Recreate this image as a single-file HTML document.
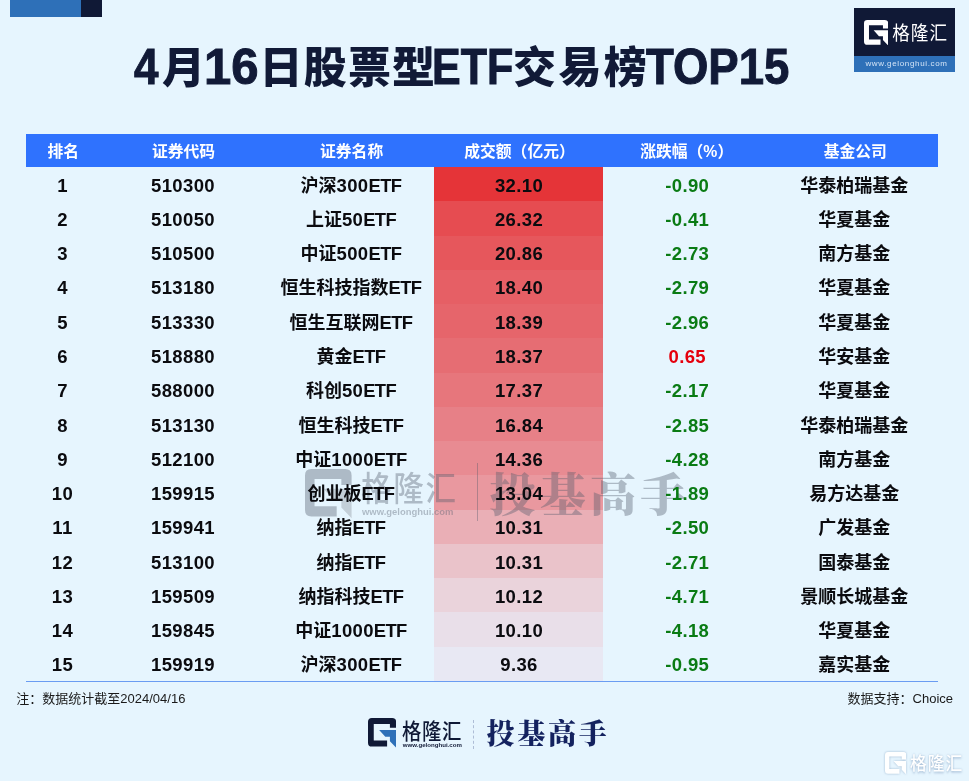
<!DOCTYPE html>
<html lang="zh-CN">
<head>
<meta charset="utf-8">
<title>4月16日股票型ETF交易榜TOP15</title>
<style>
html,body{margin:0;padding:0;}
body{width:969px;height:781px;overflow:hidden;background:#E6F5FE;position:relative;
  font-family:"Liberation Sans","Noto Sans CJK SC",sans-serif;color:#0b0b0f;}
.abs{position:absolute;}
.deco1{left:10px;top:0;width:71px;height:16.5px;background:#2E70B8;}
.deco2{left:81px;top:0;width:20.5px;height:16.5px;background:#101936;}
.title{left:0;width:969px;top:36px;height:64px;line-height:64px;font-weight:700;color:#111A37;white-space:nowrap;}
.title span{position:absolute;top:0;height:64px;line-height:64px;}
.tc{font-size:43px;letter-spacing:1.2px;font-weight:900;}
.tl{font-size:50px;transform-origin:0 50%;-webkit-text-stroke:1px #111A37;top:-1px !important;}
.logo{left:854px;top:8px;width:101px;height:64px;}
.logo .dk{left:0;top:0;width:101px;height:48px;background:#101936;}
.logo .bl{left:0;top:48px;width:101px;height:16px;background:#2E70B8;}
.logo .nm{left:38.2px;top:10.5px;height:28px;line-height:28px;font-size:17.6px;color:#fff;font-weight:400;white-space:nowrap;letter-spacing:1px;transform:scaleY(1.1);transform-origin:50% 50%;}
.logo .url{left:2px;top:48px;width:101px;height:16px;line-height:16px;text-align:center;font-size:8px;color:#d4e4f6;letter-spacing:0.65px;white-space:nowrap;}
.thead{left:26px;top:134px;width:912px;height:33px;background:#2F72FE;}
.th{position:absolute;top:134.8px;height:33px;line-height:33px;color:#fff;font-size:15.8px;font-weight:700;text-align:center;white-space:nowrap;width:200px;}
.bar{position:absolute;left:434px;width:169px;}
.row{position:absolute;left:0;width:969px;font-size:18px;font-weight:700;white-space:nowrap;}
.d{font-size:18.5px;letter-spacing:.35px}.a{font-size:18.4px;letter-spacing:-.6px}
.c{position:absolute;top:1.7px;width:200px;text-align:center;}
.c1{left:-37.5px}.c2{left:83px}.c3{left:251px}.c4{left:419px}.c5{left:587.3px}.c6{left:754.3px}
.h1{left:-36.8px}.h2{left:83.5px}.h3{left:251.6px}.h4{left:419.5px}.h5{left:586.7px}.h6{left:755.3px}
.dn{color:#0A7B14}.up{color:#E5000D}
.line{left:26px;top:680.7px;width:912px;height:1px;background:#6A9CF2;}
.note{top:690px;height:18px;line-height:18px;font-size:13px;color:#1a1a1a;white-space:nowrap;}

.wm{left:0;top:0;width:969px;height:781px;opacity:.37;color:#4F5868;pointer-events:none;}
.wm .nm{left:361px;top:466.5px;height:44px;line-height:44px;font-size:30.5px;font-weight:500;letter-spacing:1.8px;white-space:nowrap;transform:scaleY(1.1);transform-origin:50% 50%;}
.wm .url{left:362px;top:504.5px;height:14px;line-height:14px;font-size:9.45px;font-weight:700;white-space:nowrap;font-family:"Liberation Sans",sans-serif;}
.wm .vl{left:477px;top:462.5px;width:1.2px;height:58px;background:#4F5868;}
.wm .tj{left:489.5px;top:461.5px;height:68px;line-height:68px;font-family:"Liberation Serif","Noto Serif CJK SC",serif;font-weight:900;font-size:46px;letter-spacing:4.2px;white-space:nowrap;}
.bl-nm{left:402px;top:716.5px;height:28px;line-height:28px;font-size:19.4px;font-weight:500;letter-spacing:.6px;color:#101936;white-space:nowrap;transform:scaleY(1.12);transform-origin:50% 50%;}
.bl-url{left:402.8px;top:740px;height:9px;line-height:9px;font-size:6.1px;font-weight:700;color:#101936;white-space:nowrap;font-family:"Liberation Sans",sans-serif;}
.bl-vl{left:472.7px;top:719.5px;width:0;height:29.5px;border-left:1px dashed #AEBDD6;}
.bl-tj{left:486.6px;top:714px;height:42px;line-height:42px;font-family:"Liberation Serif","Noto Serif CJK SC",serif;font-weight:900;font-size:28px;letter-spacing:2.7px;color:#14225F;white-space:nowrap;}
.br-nm{left:910px;top:750.8px;height:28px;line-height:28px;font-size:16.8px;font-weight:500;letter-spacing:1px;color:#fff;white-space:nowrap;transform:scaleY(1.1);transform-origin:50% 50%;text-shadow:0 0 2px rgba(120,150,185,.6),0 1px 2px rgba(120,150,185,.35);}
</style>
</head>
<body>
<div class="abs deco1"></div><div class="abs deco2"></div>
<div class="abs title">
<span class="tl" style="left:133.5px;transform:scaleX(.88)">4</span><span class="tc" style="left:162px">月</span><span class="tl" style="left:204px;transform:scaleX(.98)">16</span><span class="tc" style="left:259.5px">日股票型</span><span class="tl" style="left:432.3px;transform:scaleX(.86)">ETF</span><span class="tc" style="left:513px;letter-spacing:2.4px">交易榜</span><span class="tl" style="left:646px;transform:scaleX(.91)">TOP15</span>
</div>

<div class="abs logo">
  <div class="abs dk"></div><div class="abs bl"></div>
  <svg class="abs" style="left:9.8px;top:11.6px" width="24.3" height="25.8" viewBox="0 0 100 106"><path fill="#fff" d="M13.7 0H86.3Q100 0 100 13.7V34.5H78V21.4H20.5V79.9H68V101.8H13.7Q0 101.8 0 88V13.7Q0 0 13.7 0Z"/><path fill="#fff" d="M39.7 42.5H100V105.5L78 82.6V66.5H61.6Z"/></svg>
  <div class="abs nm">格隆汇</div>
  <div class="abs url">www.gelonghui.com</div>
</div>

<div class="abs thead"></div>
<div class="th h1">排名</div><div class="th h2">证券代码</div><div class="th h3">证券名称</div>
<div class="th h4">成交额（亿元）</div><div class="th h5">涨跌幅（%）</div><div class="th h6">基金公司</div>

<div class="bar" style="top:167.00px;height:34.57px;background:#E53438"></div>
<div class="bar" style="top:201.27px;height:34.57px;background:#E64C51"></div>
<div class="bar" style="top:235.53px;height:34.57px;background:#E6575C"></div>
<div class="bar" style="top:269.80px;height:34.57px;background:#E65F65"></div>
<div class="bar" style="top:304.07px;height:34.57px;background:#E6656B"></div>
<div class="bar" style="top:338.33px;height:34.57px;background:#E66D73"></div>
<div class="bar" style="top:372.60px;height:34.57px;background:#E7767C"></div>
<div class="bar" style="top:406.87px;height:34.57px;background:#E78087"></div>
<div class="bar" style="top:441.13px;height:34.57px;background:#E88B92"></div>
<div class="bar" style="top:475.40px;height:34.57px;background:#E9989F"></div>
<div class="bar" style="top:509.67px;height:34.57px;background:#EAAFB6"></div>
<div class="bar" style="top:543.93px;height:34.57px;background:#EAC3CA"></div>
<div class="bar" style="top:578.20px;height:34.57px;background:#EAD3DB"></div>
<div class="bar" style="top:612.47px;height:34.57px;background:#E9DFE9"></div>
<div class="bar" style="top:646.73px;height:34.57px;background:#E8E8F3"></div>
<div class="abs wm">
  <svg class="abs" style="left:305.3px;top:469.3px" width="46.6" height="49.4" viewBox="0 0 100 106"><path fill="#4F5868" d="M13.7 0H86.3Q100 0 100 13.7V34.5H78V21.4H20.5V79.9H68V101.8H13.7Q0 101.8 0 88V13.7Q0 0 13.7 0Z"/><path fill="#8A909A" d="M39.7 42.5H100V105.5L78 82.6V66.5H61.6Z"/></svg>
  <div class="abs nm">格隆汇</div>
  <div class="abs url">www.gelonghui.com</div>
  <div class="abs vl"></div>
  <div class="abs tj">投基高手</div>
</div>
<div class="row" style="top:167.00px;height:34.27px;line-height:34.27px"><span class="c c1"><span class="d">1</span></span><span class="c c2"><span class="d">510300</span></span><span class="c c3">沪深<span class="d">300</span><span class="a">ETF</span></span><span class="c c4"><span class="d">32.10</span></span><span class="c c5 dn"><span class="d">-0.90</span></span><span class="c c6">华泰柏瑞基金</span></div>
<div class="row" style="top:201.27px;height:34.27px;line-height:34.27px"><span class="c c1"><span class="d">2</span></span><span class="c c2"><span class="d">510050</span></span><span class="c c3">上证<span class="d">50</span><span class="a">ETF</span></span><span class="c c4"><span class="d">26.32</span></span><span class="c c5 dn"><span class="d">-0.41</span></span><span class="c c6">华夏基金</span></div>
<div class="row" style="top:235.53px;height:34.27px;line-height:34.27px"><span class="c c1"><span class="d">3</span></span><span class="c c2"><span class="d">510500</span></span><span class="c c3">中证<span class="d">500</span><span class="a">ETF</span></span><span class="c c4"><span class="d">20.86</span></span><span class="c c5 dn"><span class="d">-2.73</span></span><span class="c c6">南方基金</span></div>
<div class="row" style="top:269.80px;height:34.27px;line-height:34.27px"><span class="c c1"><span class="d">4</span></span><span class="c c2"><span class="d">513180</span></span><span class="c c3">恒生科技指数<span class="a">ETF</span></span><span class="c c4"><span class="d">18.40</span></span><span class="c c5 dn"><span class="d">-2.79</span></span><span class="c c6">华夏基金</span></div>
<div class="row" style="top:304.07px;height:34.27px;line-height:34.27px"><span class="c c1"><span class="d">5</span></span><span class="c c2"><span class="d">513330</span></span><span class="c c3">恒生互联网<span class="a">ETF</span></span><span class="c c4"><span class="d">18.39</span></span><span class="c c5 dn"><span class="d">-2.96</span></span><span class="c c6">华夏基金</span></div>
<div class="row" style="top:338.33px;height:34.27px;line-height:34.27px"><span class="c c1"><span class="d">6</span></span><span class="c c2"><span class="d">518880</span></span><span class="c c3">黄金<span class="a">ETF</span></span><span class="c c4"><span class="d">18.37</span></span><span class="c c5 up"><span class="d">0.65</span></span><span class="c c6">华安基金</span></div>
<div class="row" style="top:372.60px;height:34.27px;line-height:34.27px"><span class="c c1"><span class="d">7</span></span><span class="c c2"><span class="d">588000</span></span><span class="c c3">科创<span class="d">50</span><span class="a">ETF</span></span><span class="c c4"><span class="d">17.37</span></span><span class="c c5 dn"><span class="d">-2.17</span></span><span class="c c6">华夏基金</span></div>
<div class="row" style="top:406.87px;height:34.27px;line-height:34.27px"><span class="c c1"><span class="d">8</span></span><span class="c c2"><span class="d">513130</span></span><span class="c c3">恒生科技<span class="a">ETF</span></span><span class="c c4"><span class="d">16.84</span></span><span class="c c5 dn"><span class="d">-2.85</span></span><span class="c c6">华泰柏瑞基金</span></div>
<div class="row" style="top:441.13px;height:34.27px;line-height:34.27px"><span class="c c1"><span class="d">9</span></span><span class="c c2"><span class="d">512100</span></span><span class="c c3">中证<span class="d">1000</span><span class="a">ETF</span></span><span class="c c4"><span class="d">14.36</span></span><span class="c c5 dn"><span class="d">-4.28</span></span><span class="c c6">南方基金</span></div>
<div class="row" style="top:475.40px;height:34.27px;line-height:34.27px"><span class="c c1"><span class="d">10</span></span><span class="c c2"><span class="d">159915</span></span><span class="c c3">创业板<span class="a">ETF</span></span><span class="c c4"><span class="d">13.04</span></span><span class="c c5 dn"><span class="d">-1.89</span></span><span class="c c6">易方达基金</span></div>
<div class="row" style="top:509.67px;height:34.27px;line-height:34.27px"><span class="c c1"><span class="d">11</span></span><span class="c c2"><span class="d">159941</span></span><span class="c c3">纳指<span class="a">ETF</span></span><span class="c c4"><span class="d">10.31</span></span><span class="c c5 dn"><span class="d">-2.50</span></span><span class="c c6">广发基金</span></div>
<div class="row" style="top:543.93px;height:34.27px;line-height:34.27px"><span class="c c1"><span class="d">12</span></span><span class="c c2"><span class="d">513100</span></span><span class="c c3">纳指<span class="a">ETF</span></span><span class="c c4"><span class="d">10.31</span></span><span class="c c5 dn"><span class="d">-2.71</span></span><span class="c c6">国泰基金</span></div>
<div class="row" style="top:578.20px;height:34.27px;line-height:34.27px"><span class="c c1"><span class="d">13</span></span><span class="c c2"><span class="d">159509</span></span><span class="c c3">纳指科技<span class="a">ETF</span></span><span class="c c4"><span class="d">10.12</span></span><span class="c c5 dn"><span class="d">-4.71</span></span><span class="c c6">景顺长城基金</span></div>
<div class="row" style="top:612.47px;height:34.27px;line-height:34.27px"><span class="c c1"><span class="d">14</span></span><span class="c c2"><span class="d">159845</span></span><span class="c c3">中证<span class="d">1000</span><span class="a">ETF</span></span><span class="c c4"><span class="d">10.10</span></span><span class="c c5 dn"><span class="d">-4.18</span></span><span class="c c6">华夏基金</span></div>
<div class="row" style="top:646.73px;height:34.27px;line-height:34.27px"><span class="c c1"><span class="d">15</span></span><span class="c c2"><span class="d">159919</span></span><span class="c c3">沪深<span class="d">300</span><span class="a">ETF</span></span><span class="c c4"><span class="d">9.36</span></span><span class="c c5 dn"><span class="d">-0.95</span></span><span class="c c6">嘉实基金</span></div>

<div class="abs line"></div>
<div class="abs note" style="left:16.3px">注：数据统计截至2024/04/16</div>
<div class="abs note" style="right:16px">数据支持：Choice</div>

<svg class="abs" style="left:368px;top:718px" width="28.1" height="29.8" viewBox="0 0 100 106"><path fill="#101936" d="M13.7 0H86.3Q100 0 100 13.7V34.5H78V21.4H20.5V79.9H68V101.8H13.7Q0 101.8 0 88V13.7Q0 0 13.7 0Z"/><path fill="#2E70B8" d="M39.7 42.5H100V105.5L78 82.6V66.5H61.6Z"/></svg>
<div class="abs bl-nm">格隆汇</div>
<div class="abs bl-url">www.gelonghui.com</div>
<div class="abs bl-vl"></div>
<div class="abs bl-tj">投基高手</div>

<svg class="abs" style="left:884.7px;top:752.2px;filter:drop-shadow(0 0 1.2px rgba(120,150,185,.65))" width="21.4" height="22.7" viewBox="0 0 100 106"><path fill="#fff" d="M13.7 0H86.3Q100 0 100 13.7V34.5H78V21.4H20.5V79.9H68V101.8H13.7Q0 101.8 0 88V13.7Q0 0 13.7 0Z"/><path fill="#fff" d="M39.7 42.5H100V105.5L78 82.6V66.5H61.6Z"/></svg>
<div class="abs br-nm">格隆汇</div>

</body>
</html>
